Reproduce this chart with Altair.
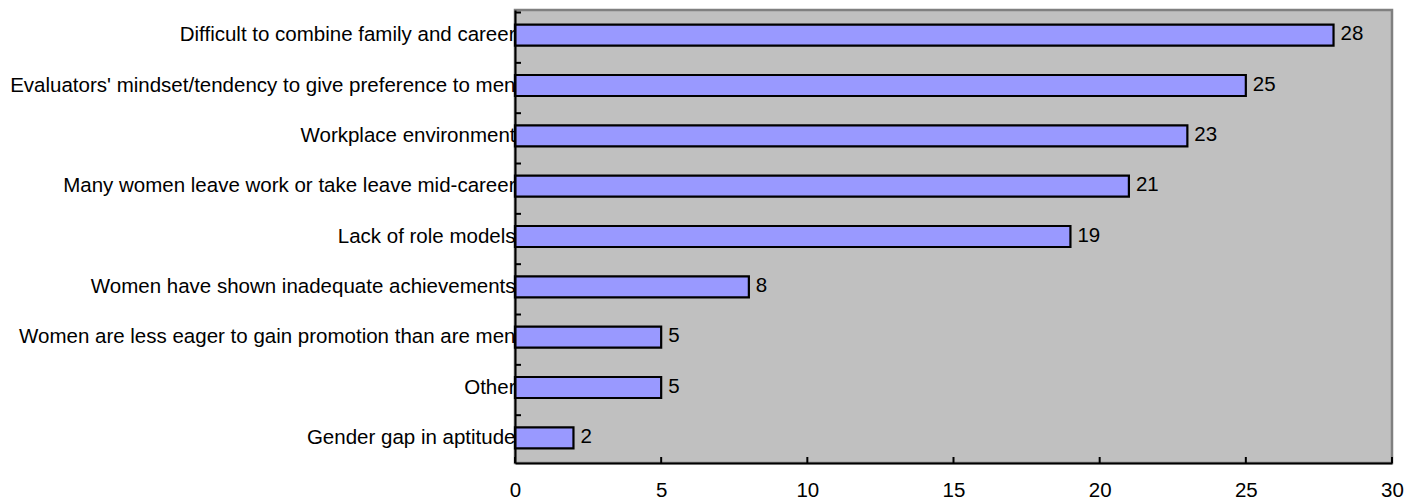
import altair as alt
import pandas as pd

categories = [
    "Difficult to combine family and career",
    "Evaluators' mindset/tendency to give preference to men",
    "Workplace environment",
    "Many women leave work or take leave mid-career",
    "Lack of role models",
    "Women have shown inadequate achievements",
    "Women are less eager to gain promotion than are men",
    "Other",
    "Gender gap in aptitude",
]
values = [28, 25, 23, 21, 19, 8, 5, 5, 2]
x_ticks = [0, 5, 10, 15, 20, 25, 30]

FONT = "Liberation Sans"
FS = 20.5
W, H = 877, 453

df = pd.DataFrame({"category": categories, "value": values})
tick_df = pd.DataFrame({"t": x_ticks})
cat_df = pd.DataFrame({"category": categories})

y_enc = alt.Y(
    "category:N",
    sort=categories,
    title=None,
    axis=alt.Axis(
        domain=True, domainColor="black", domainWidth=2,
        ticks=False, labelPadding=0, labelFont=FONT, labelFontSize=FS,
        labelColor="black", labelLimit=800, zindex=1,
    ),
)
x_enc = alt.X(
    "value:Q",
    scale=alt.Scale(domain=[0, 30], nice=False, zero=True),
    title=None,
    axis=alt.Axis(
        values=x_ticks, grid=False, domain=True, domainColor="black",
        domainWidth=2, ticks=False, labelPadding=17, labelFont=FONT,
        labelFontSize=FS, labelColor="black", labelFlush=False,
    ),
)

bars = alt.Chart(df).mark_bar(
    size=21, fill="#9999FF", stroke="black", strokeWidth=2.2
).encode(y=y_enc, x=x_enc)

labels = alt.Chart(df).mark_text(
    align="left", baseline="middle", dx=7, dy=-1, font=FONT,
    fontSize=FS, color="black"
).encode(
    y=alt.Y("category:N", sort=categories),
    x=alt.X("value:Q"),
    text=alt.Text("value:Q"),
)

xticks = alt.Chart(tick_df).mark_rule(color="black", strokeWidth=2).encode(
    x=alt.X("t:Q"),
    y=alt.value(H),
    y2=alt.value(H - 6),
)

yticks = alt.Chart(cat_df).mark_rule(color="black", strokeWidth=2).encode(
    y=alt.Y("category:N", sort=categories, bandPosition=0),
    x=alt.value(0),
    x2=alt.value(6),
)

chart = alt.layer(bars, labels, xticks, yticks).properties(
    width=W,
    height=H,
    autosize="none",
    background="white",
    padding={"left": 507, "top": 2, "right": 22, "bottom": 36},
).configure_view(
    fill="#C0C0C0", stroke="#808080", strokeWidth=2.5
)

chart.save("out.html", embed_options={"renderer": "svg", "actions": False})
